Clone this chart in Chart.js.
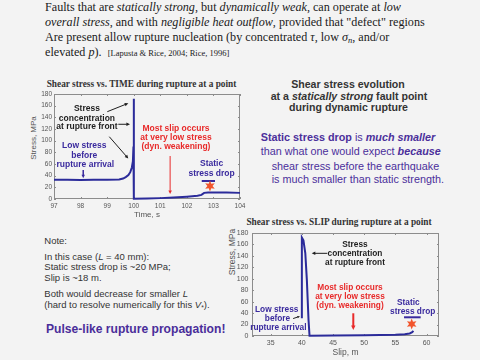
<!DOCTYPE html>
<html><head><meta charset="utf-8">
<script src="https://cdn.jsdelivr.net/npm/chart.js@4/dist/chart.umd.min.js"></script>
<style>
html,body{margin:0;padding:0;}
body{width:480px;height:360px;background:#f3f3f3;position:relative;overflow:hidden;font-family:"Liberation Sans",Arial,sans-serif;}
.a{position:absolute;white-space:nowrap;}
.c{transform:translate(-50%,-50%);}
.l{transform:translateY(-50%);}
#top{left:45px;top:0;font-family:"Liberation Serif","Times New Roman",serif;font-size:12.15px;line-height:15px;color:#1a1a1a;}
sub{font-size:70%;line-height:0;vertical-align:-2px;}
.ttl{font-family:"Liberation Serif","Times New Roman",serif;font-weight:bold;font-size:9.3px;color:#333;}
.rh{font-weight:bold;font-size:10.6px;color:#333;}
.pp{font-size:10.8px;color:#4b2f9b;}
.nt{font-size:9.5px;color:#333;}
.yt{font-size:8px;color:#555;transform:translate(-50%,-50%) rotate(-90deg);}
canvas{position:absolute;}
</style></head>
<body>
<div class="a" id="top">
<div>Faults that are <i>statically strong</i>, but <i>dynamically weak</i>, can operate at <i>low</i></div>
<div><i>overall stress</i>, and with <i>negligible heat outflow</i>, provided that "defect" regions</div>
<div>Are present allow rupture nucleation (by concentrated <i>τ</i>, low <i>σ<sub>n</sub></i>, and/or</div>
<div>elevated <i>p</i>).&nbsp;&nbsp;<span style="font-size:8.5px">[Lapusta &amp; Rice, 2004; Rice, 1996]</span></div>
</div>

<div class="a c ttl" style="left:141.5px;top:84px">Shear stress vs. TIME during rupture at a point</div>
<div class="a c ttl" style="left:339px;top:222.3px">Shear stress vs. SLIP during rupture at a point</div>

<div class="a c rh" style="left:348px;top:84px">Shear stress evolution</div>
<div class="a c rh" style="left:349px;top:95.7px">at a <i>statically strong</i> fault point</div>
<div class="a c rh" style="left:348.5px;top:106.7px">during dynamic rupture</div>

<div class="a l pp" style="left:260.7px;top:137.3px"><b>Static stress drop</b> is <b><i>much smaller</i></b></div>
<div class="a l pp" style="left:260.7px;top:151px">than what one would expect <b><i>because</i></b></div>
<div class="a l pp" style="left:271.7px;top:165.7px">shear stress before the earthquake</div>
<div class="a l pp" style="left:271.7px;top:179.3px">is much smaller than static strength.</div>

<div class="a l nt" style="left:44.3px;top:240px">Note:</div>
<div class="a l nt" style="left:44.3px;top:255.7px">In this case (<i>L</i> = 40 mm):</div>
<div class="a l nt" style="left:44.3px;top:266.3px">Static stress drop is ~20 MPa;</div>
<div class="a l nt" style="left:44.3px;top:277.3px">Slip is ~18 m.</div>
<div class="a l nt" style="left:44.3px;top:292.7px">Both would decrease for smaller <i>L</i></div>
<div class="a l nt" style="left:44.3px;top:303.7px">(hard to resolve numerically for this <i>V</i><sub>*</sub>).</div>
<div class="a l" style="left:46px;top:329.3px;font-size:12.1px;font-weight:bold;color:#4a2d9a">Pulse-like rupture propagation!</div>

<div class="a yt" style="left:33px;top:138px">Stress, MPa</div>
<div class="a yt" style="left:231.5px;top:252px;font-size:8.5px">Stress, MPa</div>

<canvas id="c1" style="left:14px;top:88px" width="232" height="140"></canvas>
<canvas id="c2" style="left:226px;top:226px" width="219" height="134"></canvas>

<script>
// ---- data ----
const timeS = [97, 97.5, 98, 98.5, 99, 99.45, 99.6, 99.7, 99.8, 99.87, 99.93, 99.97, 99.99, 100.0, 100.01, 100.5, 101.0, 101.5, 102.0, 102.4, 102.55, 102.65, 102.8, 103.5, 104];
const stressVsTime = [33, 33, 32.5, 33, 33, 33.5, 35, 37.5, 41, 46, 54, 65, 90, 172, 0.5, 1, 1.5, 2.5, 4, 5.5, 7, 10.5, 11, 11, 10.5];
const slipM = [40.0, 40.0, 40.25, 40.55, 40.8, 41.07, 41.23, 45, 50, 55, 56.5, 57.3, 57.7, 57.9];
const stressVsSlip = [31, 172, 167, 145, 98, 28, 0.5, 0.8, 1.2, 2, 3, 4.5, 6.5, 9];
const timeTicks = [97, 98, 99, 100, 101, 102, 103, 104];
const slipTicks = [35, 40, 45, 50, 55, 60];
const stressTicks = [0, 20, 40, 60, 80, 100, 120, 140, 160, 180];

const LINE = '#2b2b9a', BLK = '#1e1e1e', RED = '#e82a2a', BLU = '#3a2a9e', STAR = '#f2552c';

function arrow(ctx, x1, y1, x2, y2, color, lw, hl) {
  const ang = Math.atan2(y2 - y1, x2 - x1);
  ctx.strokeStyle = color; ctx.fillStyle = color; ctx.lineWidth = lw;
  ctx.beginPath(); ctx.moveTo(x1, y1);
  ctx.lineTo(x2 - hl * 0.8 * Math.cos(ang), y2 - hl * 0.8 * Math.sin(ang)); ctx.stroke();
  ctx.beginPath(); ctx.moveTo(x2, y2);
  ctx.lineTo(x2 - hl * Math.cos(ang - 0.45), y2 - hl * Math.sin(ang - 0.45));
  ctx.lineTo(x2 - hl * Math.cos(ang + 0.45), y2 - hl * Math.sin(ang + 0.45));
  ctx.closePath(); ctx.fill();
}
function star(ctx, cx, cy, ro, ri, n, color) {
  ctx.beginPath();
  for (let i = 0; i < 2 * n; i++) {
    const r = i % 2 ? ri : ro, a = -Math.PI / 2 + i * Math.PI / n;
    const px = cx + r * Math.cos(a), py = cy + r * Math.sin(a);
    i ? ctx.lineTo(px, py) : ctx.moveTo(px, py);
  }
  ctx.closePath(); ctx.fillStyle = color; ctx.fill();
}

const boxPlugin = {
  id: 'box',
  beforeDatasetsDraw(chart) {
    const { ctx, chartArea: a, scales: { x, y } } = chart;
    ctx.save();
    ctx.strokeStyle = '#8c8c8c'; ctx.lineWidth = 1;
    ctx.strokeRect(Math.round(a.left) + 0.5, Math.round(a.top) + 0.5, Math.round(a.right - a.left) - 1, Math.round(a.bottom - a.top) - 1);
    ctx.beginPath();
    x.ticks.forEach(t => { const p = Math.round(x.getPixelForValue(t.value)) + 0.5;
      ctx.moveTo(p, a.bottom); ctx.lineTo(p, a.bottom - 2); ctx.moveTo(p, a.top); ctx.lineTo(p, a.top + 2); });
    y.ticks.forEach(t => { const p = Math.round(y.getPixelForValue(t.value)) + 0.5;
      ctx.moveTo(a.left, p); ctx.lineTo(a.left + 2, p); ctx.moveTo(a.right, p); ctx.lineTo(a.right - 2, p); });
    ctx.stroke();
    ctx.restore();
  },
  afterDatasetsDraw(chart) {
    const n = chart.options.plugins.notes;
    if (!n) return;
    const { ctx, scales: { x, y } } = chart;
    const X = v => x.getPixelForValue(v), Y = v => y.getPixelForValue(v);
    ctx.save();
    ctx.textAlign = 'center'; ctx.textBaseline = 'middle';
    (n.texts || []).forEach(t => { ctx.font = t.f; ctx.fillStyle = t.c; ctx.fillText(t.t, X(t.x), Y(t.y)); });
    (n.arrows || []).forEach(r => arrow(ctx, X(r[0]), Y(r[1]), X(r[2]), Y(r[3]), r[4], r[5], r[6]));
    (n.bars || []).forEach(b => { ctx.strokeStyle = b[3]; ctx.lineWidth = 2; ctx.beginPath(); ctx.moveTo(X(b[0]), Y(b[2])); ctx.lineTo(X(b[1]), Y(b[2])); ctx.stroke(); });
    (n.stars || []).forEach(s => star(ctx, X(s[0]), Y(s[1]), 5.5, 2.6, 6, STAR));
    ctx.restore();
  }
};

function makeChart(id, xs, ys, xTicks, xmin, xmax, opts) {
  return new Chart(document.getElementById(id), {
    type: 'line',
    data: { datasets: [{ data: xs.map((v, i) => ({ x: v, y: ys[i] })), borderColor: LINE, borderWidth: 2, pointRadius: 0, tension: 0, clip: 4 }] },
    options: {
      responsive: false, animation: false, devicePixelRatio: 1,
      layout: { padding: opts.pad },
      plugins: { legend: { display: false }, tooltip: { enabled: false }, notes: opts.notes },
      scales: {
        x: {
          type: 'linear', min: xmin, max: xmax,
          afterBuildTicks: s => { s.ticks = xTicks.map(v => ({ value: v })); },
          afterFit: s => { s.height = opts.xh; s.paddingLeft = 0; s.paddingRight = 0; },
          grid: { display: false, drawTicks: false, tickLength: 0 }, border: { display: false },
          ticks: { font: { size: opts.tf, family: 'Liberation Sans' }, color: '#555', padding: opts.xpad, maxRotation: 0, autoSkip: false },
          title: { display: true, text: opts.xt, color: '#555', font: { size: opts.xtf, family: 'Liberation Sans' }, padding: { top: 0, bottom: opts.xtb } }
        },
        y: {
          type: 'linear', min: 0, max: 180,
          afterBuildTicks: s => { s.ticks = stressTicks.map(v => ({ value: v })); },
          afterFit: s => { s.width = opts.yw; s.paddingTop = 0; s.paddingBottom = 0; },
          grid: { display: false, drawTicks: false, tickLength: 0 }, border: { display: false },
          ticks: { font: { size: opts.tf, family: 'Liberation Sans' }, color: '#555', padding: opts.ypad }
        }
      }
    },
    plugins: [boxPlugin]
  });
}

const F1 = 'bold 8.5px "Liberation Sans"';
makeChart('c1', timeS, stressVsTime, timeTicks, 97, 104, {
  pad: { left: 0, right: 6, top: 6, bottom: 0 }, xh: 29, yw: 40, tf: 6.5, xpad: 3, ypad: 2,
  xt: 'Time, s', xtf: 8, xtb: 8,
  notes: {
    texts: [
      { t: 'Stress', x: 98.24, y: 154.3, c: BLK, f: F1 },
      { t: 'concentration', x: 98.24, y: 137.1, c: BLK, f: F1 },
      { t: 'at rupture front', x: 98.24, y: 123.4, c: BLK, f: F1 },
      { t: 'Low stress', x: 98.14, y: 90.9, c: BLU, f: F1 },
      { t: 'before', x: 98.14, y: 74.6, c: BLU, f: F1 },
      { t: 'rupture arrival', x: 98.18, y: 58.3, c: BLU, f: F1 },
      { t: 'Most slip occurs', x: 101.59, y: 121.1, c: RED, f: F1 },
      { t: 'at very low stress', x: 101.59, y: 105.0, c: RED, f: F1 },
      { t: '(dyn. weakening)', x: 101.59, y: 89.6, c: RED, f: F1 },
      { t: 'Static', x: 102.93, y: 60.0, c: BLU, f: F1 },
      { t: 'stress drop', x: 102.93, y: 44.1, c: BLU, f: F1 }
    ],
    arrows: [
      [99.006, 149.7, 99.796, 164.1, BLK, 1, 4],
      [99.42, 128.1, 99.86, 128.1, BLK, 1, 4],
      [99.08, 106.8, 99.796, 69.4, BLK, 1, 4],
      [98.1, 49.7, 98.1, 35.5, BLU, 1.5, 4],
      [101.37, 73.7, 101.37, 8.5, RED, 1, 4]
    ],
    bars: [[102.56, 103.06, 30.9, BLU]],
    stars: [[102.87, 22.3]]
  }
});

const F2 = 'bold 8.3px "Liberation Sans"';
makeChart('c2', slipM, stressVsSlip, slipTicks, 32, 62, {
  pad: { left: 0, right: 6, top: 7, bottom: 0 }, xh: 24, yw: 26, tf: 7, xpad: 3, ypad: 3.5,
  xt: 'Slip, m', xtf: 8.5, xtb: 2,
  notes: {
    texts: [
      { t: 'Stress', x: 48.52, y: 160.3, c: BLK, f: F2 },
      { t: 'concentration', x: 48.52, y: 144.5, c: BLK, f: F2 },
      { t: 'at rupture front', x: 48.52, y: 128.8, c: BLK, f: F2 },
      { t: 'Most slip occurs', x: 47.72, y: 85.1, c: RED, f: F2 },
      { t: 'at very low stress', x: 47.72, y: 68.7, c: RED, f: F2 },
      { t: '(dyn. weakening)', x: 47.72, y: 52.4, c: RED, f: F2 },
      { t: 'Low stress', x: 35.96, y: 46.7, c: BLU, f: F2 },
      { t: 'before', x: 36.09, y: 30.2, c: BLU, f: F2 },
      { t: 'rupture arrival', x: 36.22, y: 14.0, c: BLU, f: F2 },
      { t: 'Static', x: 57.08, y: 58.2, c: BLU, f: F2 },
      { t: 'stress drop', x: 57.78, y: 41.9, c: BLU, f: F2 }
    ],
    arrows: [
      [44.08, 144.5, 41.58, 144.5, BLK, 1, 4],
      [48.25, 39.7, 48.25, 10.5, RED, 2, 5],
      [38.6, 30.5, 39.7, 34.5, BLK, 1, 3]
    ],
    bars: [[56.39, 59.06, 32.7, BLU]],
    stars: [[57.62, 21]]
  }
});
</script>
</body></html>
